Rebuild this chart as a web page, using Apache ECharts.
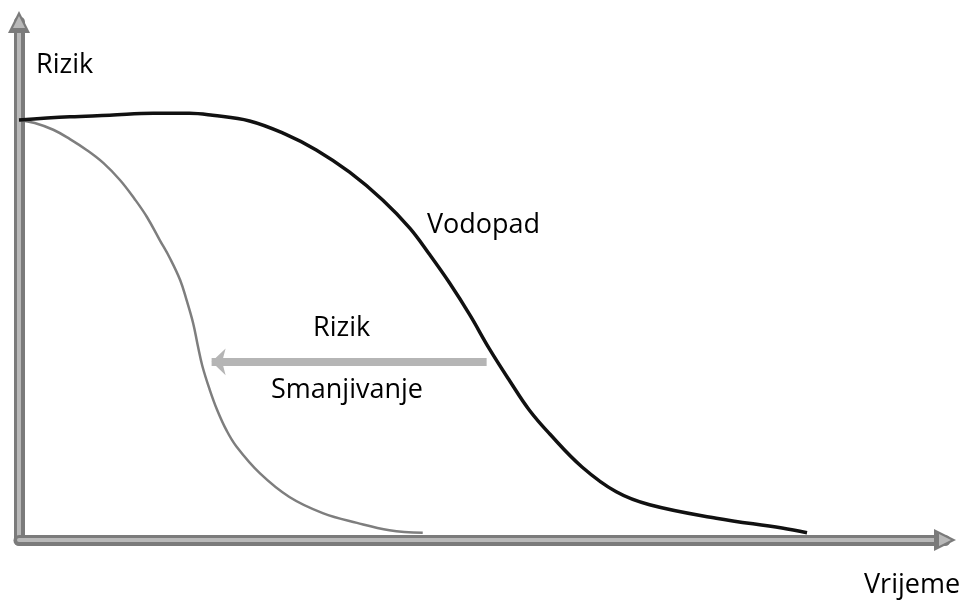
<!DOCTYPE html>
<html>
<head>
<meta charset="utf-8">
<title>Rizik - Vrijeme</title>
<script src="https://cdn.jsdelivr.net/npm/echarts@6/dist/echarts.min.js"></script>
<style>
  html, body { margin: 0; padding: 0; background: #fff; }
  #chart { width: 969px; height: 602px; }
</style>
</head>
<body>
<div id="chart"></div>
<script>
// krivulja "Vodopad" (vrijeme, rizik)
var vodopadX = [0, 5.5, 9.8, 14.5, 18.4, 20.9, 24.9, 28.7, 32.1, 35.7, 39.3, 42.2, 44.3, 46.5, 48.7, 50.8, 53.0, 55.1, 57.3, 60.8, 64.5, 68.1, 75.3, 82.4, 85.1];
var vodopadY = [81.1, 81.7, 82.0, 82.4, 82.4, 82.0, 80.9, 78.4, 75.3, 71.0, 65.6, 60.2, 55.2, 49.6, 43.4, 36.9, 30.7, 25.1, 20.5, 14.1, 9.3, 6.8, 4.2, 2.3, 1.4];
// siva krivulja
var sivaX = [0, 1.7, 3.7, 5.5, 7.3, 9.1, 10.9, 12.5, 13.8, 15.2, 16.3, 17.4, 18.1, 18.8, 19.3, 19.8, 20.6, 21.4, 22.4, 23.5, 26.0, 29.2, 32.8, 36.5, 40.0, 43.6];
var sivaY = [81.1, 80.5, 79.2, 77.4, 75.3, 72.8, 69.5, 65.8, 62.4, 57.9, 54.4, 50.2, 46.3, 41.9, 37.6, 33.6, 29.0, 25.1, 21.2, 18.0, 12.9, 8.3, 5.2, 3.3, 1.9, 1.4];
// strelica "Rizik Smanjivanje": od, do, razina
var strelicaX = [50.5, 20.8];
var strelicaY = 34.4;

function zip(xs, ys) {
  return xs.map(function (x, i) { return [x, ys[i]]; });
}

var chart = echarts.init(document.getElementById('chart'));

var gridBox = { left: 19, right: 24, top: 22, bottom: 62 };
var font = '"Open Sans", sans-serif';

function axis(idx, color, width, arrow) {
  return {
    type: 'value', gridIndex: idx, min: 0, max: 100,
    axisLine: {
      show: true, symbol: ['none', 'triangle'], symbolSize: arrow,
      lineStyle: { color: color, width: width }
    },
    axisTick: { show: false }, axisLabel: { show: false }, splitLine: { show: false }
  };
}

function label(text, x, y) {
  return { type: 'text', left: x, top: y, style: { text: text, font: '27px ' + font, fill: '#000' } };
}

var option = {
  backgroundColor: '#fff',
  animation: false,
  grid: [
    Object.assign({}, gridBox),
    Object.assign({}, gridBox)
  ],
  xAxis: [
    axis(0, '#7b7b7b', 11, [22, 22]),
    axis(1, '#b9b9b9', 4, [12, 12])
  ],
  yAxis: [
    axis(0, '#7b7b7b', 11, [22, 22]),
    axis(1, '#b9b9b9', 4, [12, 12])
  ],
  series: [
    {
      name: 'Siva', type: 'line', xAxisIndex: 0, yAxisIndex: 0,
      data: zip(sivaX, sivaY), smooth: 0.4, symbol: 'none',
      lineStyle: { color: '#7e7e7e', width: 2.5 },
      markLine: {
        silent: true, symbol: ['none', 'arrow'], symbolSize: [20, 14],
        label: { show: false },
        lineStyle: { color: '#b5b5b5', width: 8, type: 'solid' },
        data: [[{ coord: [strelicaX[0], strelicaY] }, { coord: [strelicaX[1], strelicaY] }]]
      }
    },
    {
      name: 'Vodopad', type: 'line', xAxisIndex: 0, yAxisIndex: 0,
      data: zip(vodopadX, vodopadY), smooth: 0.4, symbol: 'none',
      lineStyle: { color: '#111', width: 3.5 }
    }
  ],
  graphic: [
    label('Rizik', 36, 52),
    label('Vodopad', 427, 212),
    label('Rizik', 313, 315),
    label('Smanjivanje', 271, 377),
    label('Vrijeme', 864, 572)
  ]
};

chart.setOption(option);
window.addEventListener('resize', function () { chart.resize(); });
</script>
</body>
</html>
